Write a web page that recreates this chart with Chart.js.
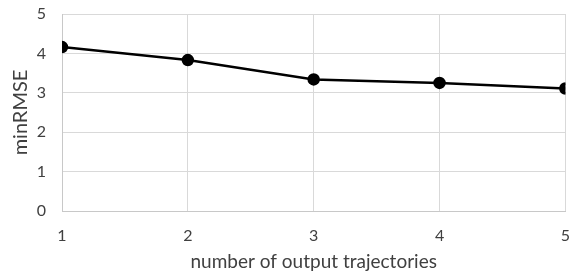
<!DOCTYPE html>
<html>
<head>
<meta charset="utf-8">
<style>
  html, body { margin: 0; padding: 0; background: #fff; }
  #wrap { width: 585px; height: 276px; }
</style>
<script src="https://cdn.jsdelivr.net/npm/chart.js"></script>
</head>
<body>
<div id="wrap"><canvas id="chart" width="585" height="276"></canvas></div>
<script>
const trajectories = [1, 2, 3, 4, 5];
const minRmse = [4.16, 3.83, 3.34, 3.25, 3.11];
const xTitle = "number of output trajectories";
const yTitle = "minRMSE";

const font = "Lato, 'Open Sans', sans-serif";
const gridColor = "#d9d9d9";
const textColor = "#404040";

new Chart(document.getElementById("chart"), {
    type: "line",
    data: {
        datasets: [{
            data: trajectories.map((x, i) => ({ x: x, y: minRmse[i] })),
            borderColor: "#000",
            backgroundColor: "#000",
            borderWidth: 2.5,
            pointRadius: 5,
            pointBackgroundColor: "#000",
            tension: 0,
        }],
    },
    options: {
        responsive: false,
        animation: false,
        layout: { padding: { top: 14, right: 16, left: 0, bottom: 0 } },
        plugins: { legend: { display: false }, tooltip: { enabled: false } },
        scales: {
            x: {
                type: "linear",
                min: 1,
                max: 5,
                ticks: { stepSize: 1, color: textColor, font: { family: font, size: 16 }, padding: 15 },
                grid: { color: gridColor, lineWidth: 1, drawTicks: false },
                border: { color: "#c8c8c8", width: 1 },
                title: { display: true, text: xTitle, color: textColor, font: { family: font, size: 19 }, padding: { top: 0, bottom: 3 } },
                afterFit(scale) { scale.height = 65; },
            },
            y: {
                min: 0,
                max: 5,
                ticks: { stepSize: 1, color: textColor, font: { family: font, size: 16 }, padding: 16 },
                grid: { color: gridColor, lineWidth: 1, drawTicks: false },
                border: { color: "#c8c8c8", width: 1 },
                title: { display: true, text: yTitle, color: textColor, font: { family: font, size: 20 }, padding: { top: 9, bottom: 0 } },
                afterFit(scale) {
                    scale.width = 62;
                    scale.paddingTop = 0;
                    scale.paddingBottom = 0;
                },
            },
        },
    },
});
</script>
</body>
</html>
